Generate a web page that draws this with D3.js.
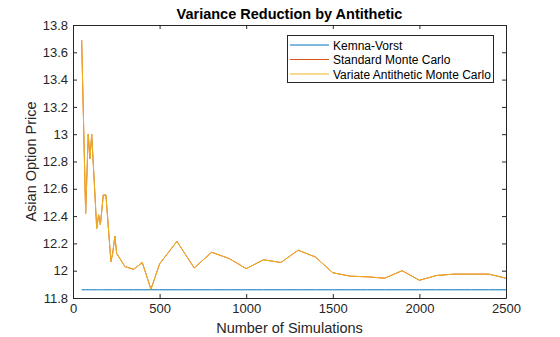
<!DOCTYPE html>
<html><head><meta charset="utf-8">
<script src="https://cdn.jsdelivr.net/npm/d3@7"></script>
<style>body{margin:0;background:#fff}svg{display:block}text{font-family:"Liberation Sans",Arial,sans-serif;fill:#262626}</style>
</head><body><svg id="c" width="560" height="337"></svg>
<script>
const simulations = [50,73,88,98,108,137,148,158,175,190,219,229,242,252,300,350,400,450,500,600,700,800,900,1000,1100,1200,1300,1400,1500,1600,1700,1800,1900,2000,2100,2200,2300,2400,2500];
const antithetic = [13.69,12.42,13.0,12.82,13.0,12.31,12.41,12.335,12.555,12.555,12.066,12.127,12.254,12.127,12.03,12.01,12.06,11.864,12.05,12.215,12.02,12.135,12.09,12.015,12.08,12.06,12.15,12.1,11.985,11.96,11.955,11.945,12.0,11.93,11.965,11.975,11.975,11.975,11.945];
const standardMC = antithetic.slice();
const kemnaVorst = simulations.map(() => 11.86);
const xTicks = [0,500,1000,1500,2000,2500];
const yTicks = [11.8,12,12.2,12.4,12.6,12.8,13,13.2,13.4,13.6,13.8];
const seriesNames = ["Kemna-Vorst","Standard Monte Carlo","Variate Antithetic Monte Carlo"];
const colors = ["#0072BD","#D95319","#EDB120"];

const svg = d3.select("#c");
const L=73,R=506,T=25,B=298;
const x = d3.scaleLinear().domain([0,2500]).range([L,R]);
const y = d3.scaleLinear().domain([11.8,13.8]).range([B,T]);

const line = d3.line().x((d,i)=>x(simulations[i])).y(d=>y(d));
[kemnaVorst, standardMC, antithetic].forEach((s,k)=>{
  svg.append("path").attr("d",line(s)).attr("fill","none").attr("stroke",colors[k]).attr("stroke-width",1);
});

const fmt = d=>String(+d.toFixed(1));
const xb = svg.append("g").attr("transform",`translate(0,${B})`).call(d3.axisBottom(x).tickValues(xTicks).tickFormat(d3.format("d")).tickSizeInner(-4).tickSizeOuter(0).tickPadding(6));
const xt = svg.append("g").attr("transform",`translate(0,${T})`).call(d3.axisTop(x).tickValues(xTicks).tickSizeInner(-4).tickSizeOuter(0).tickFormat(""));
const yl = svg.append("g").attr("transform",`translate(${L},0)`).call(d3.axisLeft(y).tickValues(yTicks).tickFormat(fmt).tickSizeInner(-4).tickSizeOuter(0).tickPadding(5));
const yr = svg.append("g").attr("transform",`translate(${R},0)`).call(d3.axisRight(y).tickValues(yTicks).tickSizeInner(-4).tickSizeOuter(0).tickFormat(""));
[xb,xt,yl,yr].forEach(g=>{g.selectAll("path,line").attr("stroke","#262626");g.selectAll("text").attr("font-size",13).attr("fill","#262626").attr("font-family","Liberation Sans, Arial, sans-serif");});

svg.append("text").attr("x",(L+R)/2).attr("y",19).attr("text-anchor","middle").attr("font-size",14.5).attr("font-weight","bold").style("fill","#000").text("Variance Reduction by Antithetic");
svg.append("text").attr("x",(L+R)/2).attr("y",333).attr("text-anchor","middle").attr("font-size",14.5).text("Number of Simulations");
svg.append("text").attr("transform",`translate(36,${(T+B)/2}) rotate(-90)`).attr("text-anchor","middle").attr("font-size",14.5).text("Asian Option Price");

const lg = svg.append("g");
lg.append("rect").attr("x",287.5).attr("y",35.5).attr("width",206).attr("height",47).attr("fill","#fff").attr("stroke","#262626").attr("stroke-width",1);
seriesNames.forEach((n,i)=>{
  const yy = 45+i*14.5;
  lg.append("line").attr("x1",290).attr("x2",329).attr("y1",yy).attr("y2",yy).attr("stroke",colors[i]).attr("stroke-width",1);
  lg.append("text").attr("x",333).attr("y",yy+4.5).attr("font-size",12).style("fill","#000").text(n);
});
</script></body></html>
